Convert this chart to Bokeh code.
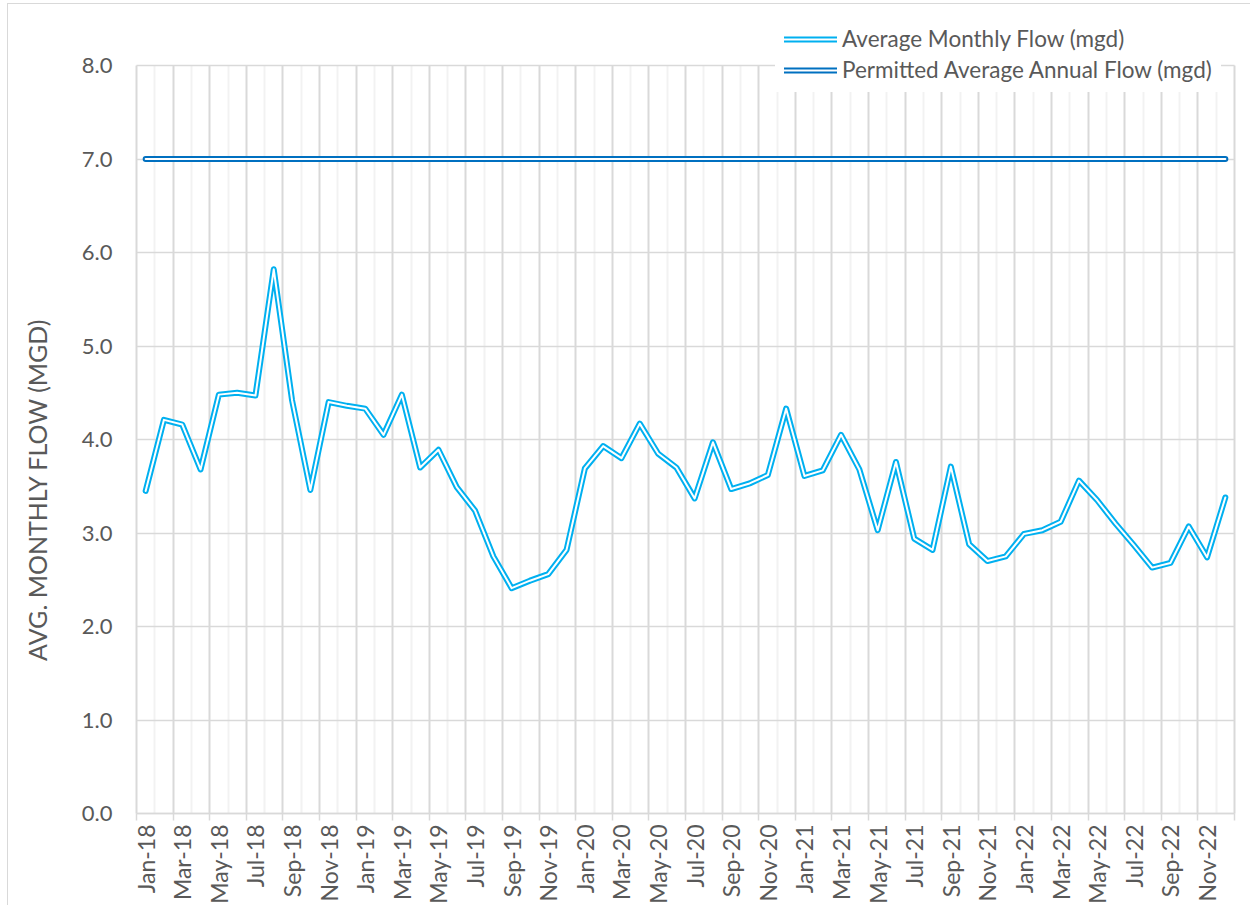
import numpy as np
from bokeh.plotting import figure
from bokeh.models import FixedTicker, Range1d, Label, Legend, LegendItem, NumeralTickFormatter
from bokeh.embed import file_html
from bokeh.resources import INLINE

# ---------------- data ----------------
month_names = ["Jan", "Feb", "Mar", "Apr", "May", "Jun",
               "Jul", "Aug", "Sep", "Oct", "Nov", "Dec"]
years = ["18", "19", "20", "21", "22"]
months = [f"{m}-{y}" for y in years for m in month_names]

avg_monthly_flow = [
    3.45, 4.21, 4.16, 3.68, 4.48, 4.50, 4.47, 5.82, 4.42, 3.46, 4.40, 4.36,   # 2018
    4.33, 4.05, 4.48, 3.70, 3.89, 3.49, 3.24, 2.75, 2.41, 2.49, 2.56, 2.82,   # 2019
    3.69, 3.93, 3.80, 4.17, 3.85, 3.70, 3.37, 3.97, 3.47, 3.53, 3.62, 4.33,   # 2020
    3.61, 3.67, 4.05, 3.68, 3.03, 3.76, 2.94, 2.82, 3.71, 2.88, 2.70, 2.75,   # 2021
    2.99, 3.03, 3.12, 3.56, 3.35, 3.10, 2.87, 2.63, 2.68, 3.07, 2.74, 3.38,   # 2022
]
permitted_annual_flow = [7.0] * len(months)

y_ticks = [0, 1, 2, 3, 4, 5, 6, 7, 8]
series_names = ["Average Monthly Flow (mgd)", "Permitted Average Annual Flow (mgd)"]
y_title = "AVG. MONTHLY FLOW (MGD)"

# ---------------- figure ----------------
n = len(months)
x = [i + 0.5 for i in range(n)]
y_max = y_ticks[-1]

FONT = "Lato"
TXT = "#595959"
GRID = "#d9d9d9"

W, H = 1243, 902
# the frame fills the whole canvas; axes are pinned at x=0 / y=0 inside it
px_x = 1098 / n          # pixels per month
px_y = 748 / y_max       # pixels per unit
x0_px, y0_px = 128, 809  # canvas position of the origin
x_range = Range1d(-x0_px / px_x, (W - x0_px) / px_x)
y_range = Range1d(-(H - y0_px) / px_y, y0_px / px_y)

p = figure(width=W, height=H, output_backend="svg", toolbar_location=None,
           x_range=x_range, y_range=y_range, min_border=0)
p.styles = {"margin-left": "8px", "margin-top": "4px",
            "box-shadow": "-1px -1px 0 0 #d9d9d9"}
p.outline_line_color = None
p.background_fill_color = "white"
p.border_fill_color = "white"

# ---------------- grids ----------------
p.xgrid.ticker = FixedTicker(ticks=list(range(0, n + 1, 2)),
                             minor_ticks=list(range(1, n, 2)))
p.xgrid.cross_bounds = (0, y_max)
p.xgrid.grid_line_color = GRID
p.xgrid.grid_line_width = 2
p.xgrid.minor_grid_line_color = "#f2f2f2"
p.xgrid.minor_grid_line_width = 2
p.ygrid.ticker = FixedTicker(ticks=y_ticks)
p.ygrid.cross_bounds = (0, n)
p.ygrid.grid_line_color = GRID
p.ygrid.grid_line_width = 1.5

# outer + inner strokes give the double-line look
r1o = p.line(x, avg_monthly_flow, line_color="#00B0F0", line_width=6, line_join="round", line_cap="round")
r1i = p.line(x, avg_monthly_flow, line_color="white", line_width=2, line_join="round", line_cap="round")
r2o = p.line(x, permitted_annual_flow, line_color="#0070C0", line_width=6, line_cap="round")
r2i = p.line(x, permitted_annual_flow, line_color="white", line_width=2, line_cap="round")

# ---------------- axes ----------------
xax = p.xaxis[0]
xax.fixed_location = 0
xax.ticker = FixedTicker(ticks=[i + 0.5 for i in range(0, n, 2)],
                         minor_ticks=list(range(0, n + 1, 2)))
xax.major_label_overrides = {i + 0.5: months[i] for i in range(0, n, 2)}
xax.major_tick_line_color = None
xax.minor_tick_in = 0
xax.minor_tick_out = 7
xax.minor_tick_line_color = GRID
xax.minor_tick_line_width = 1.5
xax.axis_line_color = GRID
xax.axis_line_width = 1.5
xax.bounds = (0, n)
xax.major_label_orientation = np.pi / 2
xax.major_label_standoff = 4
xax.major_label_text_font = FONT
xax.major_label_text_font_size = "23px"
xax.major_label_text_color = TXT

yax = p.yaxis[0]
yax.fixed_location = 0
yax.ticker = FixedTicker(ticks=y_ticks)
yax.formatter = NumeralTickFormatter(format="0.0")
yax.axis_line_color = None
yax.major_tick_line_color = None
yax.minor_tick_line_color = None
yax.major_label_standoff = 18
yax.major_label_text_font = FONT
yax.major_label_text_font_size = "22px"
yax.major_label_text_color = TXT

ylab = Label(x=28, y=3.465, x_units="screen", y_units="data", text=y_title,
             angle=np.pi / 2, text_align="center", text_baseline="middle",
             text_font=FONT, text_font_size="25px", text_color=TXT)
p.add_layout(ylab)

# ---------------- legend ----------------
legend = Legend(items=[LegendItem(label=series_names[0], renderers=[r1o, r1i]),
                       LegendItem(label=series_names[1], renderers=[r2o, r2i])],
                location=(767, 814), orientation="vertical",
                glyph_width=53, glyph_height=20, label_height=20,
                label_standoff=5, padding=9, spacing=4, margin=0,
                label_text_font=FONT, label_text_font_size="22.5px",
                label_text_color=TXT, border_line_alpha=0,
                background_fill_color="white", background_fill_alpha=1.0)
p.add_layout(legend, "center")

open("out.html", "w").write(file_html(p, INLINE))
